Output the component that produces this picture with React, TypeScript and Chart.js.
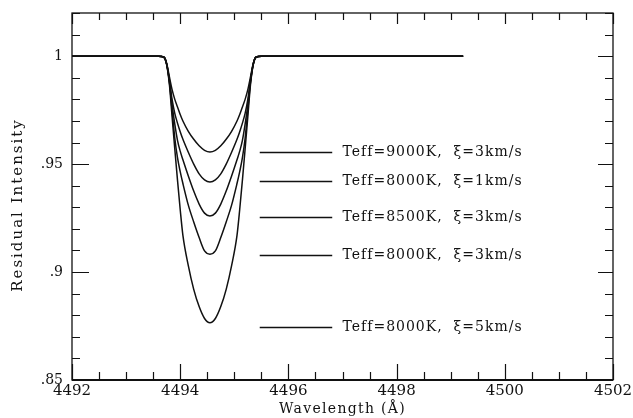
import React, { useEffect, useRef } from "react";
import { Chart, registerables } from "chart.js";

Chart.register(...registerables);

// Wavelength grid (Å)
const WAVELENGTH = [
  4492.0, 4493.6,
  4493.70, 4493.75, 4493.80, 4493.85, 4493.90, 4493.95, 4494.00, 4494.05, 4494.15, 4494.25, 4494.35, 4494.45,
  4494.55,
  4494.65, 4494.75, 4494.85, 4494.95, 4495.05, 4495.10, 4495.15, 4495.20, 4495.25, 4495.30, 4495.35, 4495.40,
  4495.50, 4499.23,
];

// Residual intensities
const R_9000_XI3 = [
  1, 1,
  0.9995, 0.9966, 0.9905, 0.9845, 0.9800, 0.9765, 0.9730, 0.9700, 0.9652, 0.9615, 0.9585, 0.9564,
  0.9556,
  0.9564, 0.9585, 0.9615, 0.9652, 0.9700, 0.9730, 0.9765, 0.9800, 0.9845, 0.9905, 0.9966, 0.9995,
  1, 1,
];
const R_8000_XI1 = [
  1, 1,
  0.9995, 0.9964, 0.9890, 0.9800, 0.9735, 0.9690, 0.9650, 0.9615, 0.9555, 0.9500, 0.9455, 0.9427,
  0.9417,
  0.9427, 0.9455, 0.9500, 0.9555, 0.9615, 0.9650, 0.9690, 0.9735, 0.9800, 0.9890, 0.9964, 0.9995,
  1, 1,
];
const R_8500_XI3 = [
  1, 1,
  0.9995, 0.9963, 0.9885, 0.9775, 0.9685, 0.9610, 0.9560, 0.9520, 0.9445, 0.9375, 0.9315, 0.9273,
  0.9260,
  0.9273, 0.9315, 0.9375, 0.9445, 0.9520, 0.9560, 0.9610, 0.9685, 0.9775, 0.9885, 0.9963, 0.9995,
  1, 1,
];
const R_8000_XI3 = [
  1, 1,
  0.9995, 0.9962, 0.9880, 0.9750, 0.9620, 0.9530, 0.9465, 0.9410, 0.9310, 0.9232, 0.9160, 0.9098,
  0.9083,
  0.9098, 0.9160, 0.9232, 0.9310, 0.9410, 0.9465, 0.9530, 0.9620, 0.9750, 0.9880, 0.9962, 0.9995,
  1, 1,
];
const R_8000_XI5 = [
  1, 1,
  0.9995, 0.9960, 0.9870, 0.9720, 0.9570, 0.9426, 0.9290, 0.9170, 0.9030, 0.8920, 0.8840, 0.8785,
  0.8765,
  0.8785, 0.8840, 0.8920, 0.9030, 0.9170, 0.9290, 0.9426, 0.9570, 0.9720, 0.9870, 0.9960, 0.9995,
  1, 1,
];

const SERIES_LABELS = [
  "Teff=9000K,  \u03be=3km/s",
  "Teff=8000K,  \u03be=1km/s",
  "Teff=8500K,  \u03be=3km/s",
  "Teff=8000K,  \u03be=3km/s",
  "Teff=8000K,  \u03be=5km/s",
];
const SERIES = [R_9000_XI3, R_8000_XI1, R_8500_XI3, R_8000_XI3, R_8000_XI5];
const LEGEND_LEVELS = [0.9556, 0.942, 0.9255, 0.908, 0.8745];

const X_MIN = 4492;
const X_MAX = 4502;
const Y_MIN = 0.85;
const Y_MAX = 1.02;
const X_MAJOR_TICKS = [4492, 4494, 4496, 4498, 4500, 4502];
const X_TICK_LABELS = ["4492", "4494", "4496", "4498", "4500", "4502"];
const Y_MAJOR_TICKS = [0.85, 0.9, 0.95, 1];
const Y_TICK_LABELS = [".85", ".9", ".95", "1"];
const X_MINOR_STEP = 0.5;
const Y_MINOR_STEP = 0.01;

const INK = "#111111";

const framePlugin = {
  id: "frame",
  afterDraw(chart: any) {
    const { ctx, chartArea, scales } = chart;
    const xs = scales.x;
    const ys = scales.y;
    const { left, right, top, bottom } = chartArea;
    ctx.save();
    ctx.strokeStyle = INK;
    ctx.fillStyle = INK;

    // frame
    ctx.lineWidth = 1.3;
    ctx.strokeRect(left, top, right - left, bottom - top);
    ctx.lineWidth = 2;
    ctx.beginPath();
    ctx.moveTo(left, bottom);
    ctx.lineTo(right, bottom);
    ctx.stroke();

    // x ticks (inward, top and bottom)
    ctx.lineWidth = 1.2;
    const nx = Math.round((X_MAX - X_MIN) / X_MINOR_STEP);
    for (let i = 0; i <= nx; i++) {
      const v = X_MIN + i * X_MINOR_STEP;
      const px = Math.round(xs.getPixelForValue(v)) + 0.5;
      const major = X_MAJOR_TICKS.some((m) => Math.abs(m - v) < 1e-6);
      ctx.beginPath();
      ctx.moveTo(px, bottom);
      ctx.lineTo(px, bottom - (major ? 16 : 8));
      ctx.moveTo(px, top);
      ctx.lineTo(px, top + (major ? 11 : 7));
      ctx.stroke();
    }
    // y ticks (inward, left and right)
    const ny = Math.round((Y_MAX - Y_MIN) / Y_MINOR_STEP);
    for (let i = 0; i <= ny; i++) {
      const v = Y_MIN + i * Y_MINOR_STEP;
      const py = Math.round(ys.getPixelForValue(v)) + 0.5;
      const major = Y_MAJOR_TICKS.some((m) => Math.abs(m - v) < 1e-6);
      ctx.beginPath();
      ctx.moveTo(left, py);
      ctx.lineTo(left + (major ? 17 : 8), py);
      ctx.moveTo(right, py);
      ctx.lineTo(right - (major ? 15 : 8), py);
      ctx.stroke();
    }

    // tick labels
    ctx.font = "15px 'DejaVu Serif'";
    ctx.textAlign = "center";
    ctx.textBaseline = "middle";
    X_MAJOR_TICKS.forEach((v, i) => {
      ctx.fillText(X_TICK_LABELS[i], xs.getPixelForValue(v), bottom + 11);
    });
    ctx.font = "14px 'DejaVu Serif'";
    ctx.textAlign = "right";
    Y_MAJOR_TICKS.forEach((v, i) => {
      ctx.fillText(Y_TICK_LABELS[i], left - 9, ys.getPixelForValue(v));
    });

    // axis titles
    ctx.font = "14px 'DejaVu Serif'";
    (ctx as any).letterSpacing = "1.3px";
    ctx.textAlign = "center";
    ctx.textBaseline = "alphabetic";
    ctx.fillText("Wavelength (\u00c5)", (left + right) / 2, bottom + 33);
    ctx.save();
    ctx.translate(18, 205);
    ctx.rotate(-Math.PI / 2);
    ctx.font = "15px 'DejaVu Serif'";
    (ctx as any).letterSpacing = "2px";
    ctx.textBaseline = "middle";
    ctx.fillText("Residual Intensity", 0, 0);
    ctx.restore();

    // legend
    ctx.lineWidth = 1.3;
    ctx.font = "14px 'DejaVu Serif'";
    ctx.textAlign = "left";
    ctx.textBaseline = "middle";
    (ctx as any).letterSpacing = "1px";
    const lx0 = xs.getPixelForValue(4495.47);
    const lx1 = xs.getPixelForValue(4496.81);
    const tx = xs.getPixelForValue(4497.0);
    LEGEND_LEVELS.forEach((lv, i) => {
      const py = Math.round(ys.getPixelForValue(lv)) + 0.5;
      ctx.beginPath();
      ctx.moveTo(lx0, py);
      ctx.lineTo(lx1, py);
      ctx.stroke();
      ctx.fillText(SERIES_LABELS[i], tx, py);
    });
    (ctx as any).letterSpacing = "0px";
    ctx.restore();
  },
};

export default function App() {
  const canvasRef = useRef<HTMLCanvasElement | null>(null);

  useEffect(() => {
    if (!canvasRef.current) return;
    const chart = new Chart(canvasRef.current, {
      type: "line",
      data: {
        datasets: SERIES.map((s, i) => ({
          label: SERIES_LABELS[i],
          data: WAVELENGTH.map((w, j) => ({ x: w, y: s[j] })),
          borderColor: INK,
          borderWidth: 1.5,
          pointRadius: 0,
          fill: false,
          cubicInterpolationMode: "monotone" as const,
        })),
      },
      options: {
        animation: false,
        responsive: true,
        maintainAspectRatio: false,
        layout: { padding: { left: 72, right: 20, top: 13, bottom: 38 } },
        plugins: { legend: { display: false }, tooltip: { enabled: false } },
        scales: {
          x: { type: "linear", min: X_MIN, max: X_MAX, display: false },
          y: { type: "linear", min: Y_MIN, max: Y_MAX, display: false },
        },
      },
      plugins: [framePlugin],
    });
    return () => chart.destroy();
  }, []);

  return (
    <div style={{ position: "fixed", left: 0, top: 0, width: 633, height: 418, background: "#fff" }}>
      <canvas ref={canvasRef} />
    </div>
  );
}
